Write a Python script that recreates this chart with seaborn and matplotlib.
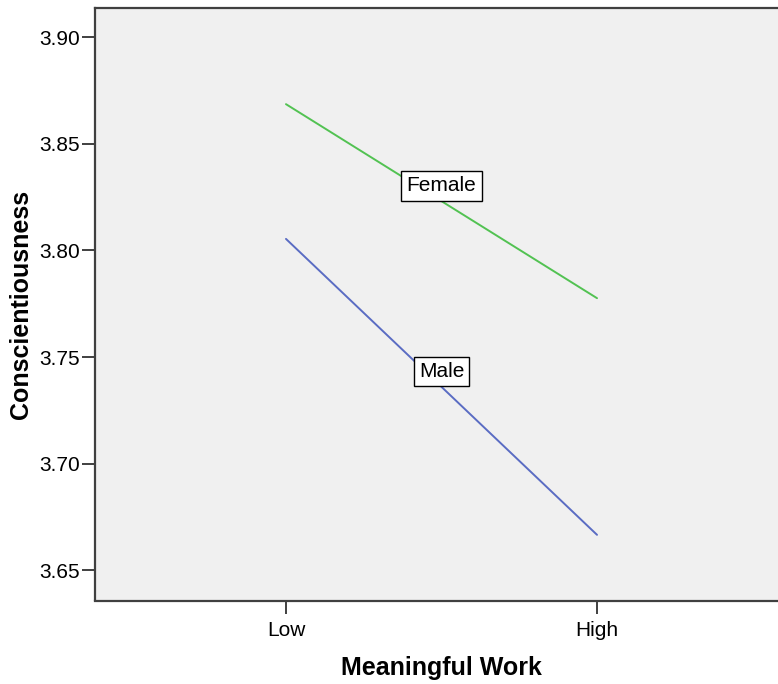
import pandas as pd
import seaborn as sns
import matplotlib.pyplot as plt

# values
work_levels = ["Low", "High"]
female_means = [3.8686, 3.7776]
male_means = [3.8054, 3.6666]
y_ticks = [3.65, 3.70, 3.75, 3.80, 3.85, 3.90]

green = "#52C252"
blue = "#5A6CC3"
spine_col = "#404040"


def build_frame():
    rows = []
    for lvl, f, m in zip(work_levels, female_means, male_means):
        rows.append({"Meaningful Work": lvl, "Gender": "Female", "Conscientiousness": f})
        rows.append({"Meaningful Work": lvl, "Gender": "Male", "Conscientiousness": m})
    return pd.DataFrame(rows)


def main():
    sns.set_theme(style="white")
    plt.rcParams["font.family"] = ["Liberation Sans", "DejaVu Sans"]

    df = build_frame()
    fig = plt.figure(figsize=(7.78, 6.84), dpi=100)
    ax = fig.add_axes([95 / 778, 1 - 600.5 / 684, 693 / 778, 592.5 / 684])
    ax.set_facecolor("#F0F0F0")

    sns.lineplot(data=df, x="Meaningful Work", y="Conscientiousness", hue="Gender",
                 palette={"Female": green, "Male": blue}, linewidth=1.4,
                 legend=False, ax=ax, sort=False)

    ax.set_xlim(-0.614, 1.614)
    ax.set_ylim(3.6358, 3.9137)
    ax.set_xticks([0, 1])
    ax.set_xticklabels(work_levels)
    ax.set_yticks(y_ticks)
    ax.set_yticklabels([f"{t:.2f}" for t in y_ticks])

    for side in ["left", "bottom", "top"]:
        ax.spines[side].set_color(spine_col)
        ax.spines[side].set_linewidth(1.6)
    ax.spines["right"].set_visible(False)

    ax.tick_params(axis="both", which="major", direction="out", length=9.5,
                   width=1.2, color="#202020", labelsize=15, labelcolor="black")
    ax.tick_params(axis="y", pad=1.5)
    ax.tick_params(axis="x", pad=5)
    ax.tick_params(left=True, bottom=True)

    ax.set_xlabel("Meaningful Work", fontsize=18, fontweight="bold", labelpad=12,
                  color="black")
    ax.set_ylabel("Conscientiousness", fontsize=18, fontweight="bold", labelpad=4,
                  color="black")

    # line labels at the middle of each line
    for name, vals in [("Female", female_means), ("Male", male_means)]:
        mid = sum(vals) / len(vals)
        ax.annotate(name, xy=(0.5, mid), xytext=(0, 11), textcoords="offset points",
                    ha="center", va="center", fontsize=15, color="black",
                    bbox=dict(boxstyle="square,pad=0.25", fc="white", ec="black", lw=1.0))

    fig.savefig("out.png", dpi=100)


if __name__ == "__main__":
    main()
